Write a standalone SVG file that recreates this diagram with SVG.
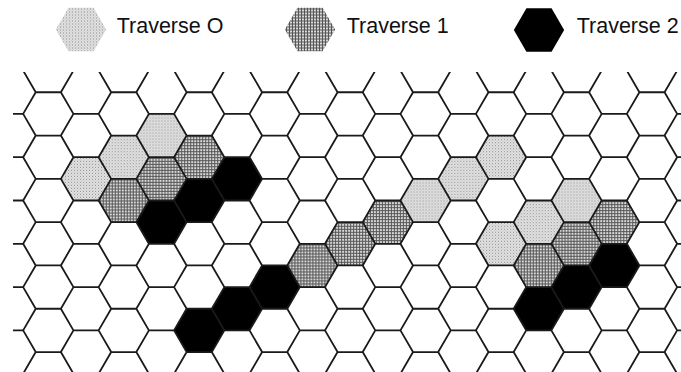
<svg xmlns="http://www.w3.org/2000/svg" width="681" height="372" viewBox="0 0 681 372">
  <defs>
    <pattern id="p0" width="3" height="3" patternUnits="userSpaceOnUse">
      <rect width="3" height="3" fill="#e4e4e4"/>
      <rect width="1" height="1" fill="#888"/>
      <rect x="1.5" y="1.5" width="1" height="1" fill="#aaa"/>
    </pattern>
    <pattern id="p1" width="3" height="3" patternUnits="userSpaceOnUse">
      <rect width="3" height="3" fill="#d8d8d8"/>
      <rect width="3" height="1" fill="#555"/>
      <rect width="1" height="3" fill="#555"/>
    </pattern>
    <polygon id="hex" points="-25.15,0 -12.575,-21.65 12.575,-21.65 25.15,0 12.575,21.65 -12.575,21.65"/>
    <path id="strip" d="M-12.575,-21.65 l-12.575,21.65 l12.575,21.65 l-12.575,21.65 l12.575,21.65 l-12.575,21.65 l12.575,21.65 l-12.575,21.65 l12.575,21.65 l-12.575,21.65 l12.575,21.65 l-12.575,21.65 l12.575,21.65 l-12.575,21.65 l12.575,21.65 l-12.575,21.65 l12.575,21.65
      M12.575,-21.65 l12.575,21.65 l-12.575,21.65 l12.575,21.65 l-12.575,21.65 l12.575,21.65 l-12.575,21.65 l12.575,21.65 l-12.575,21.65 l12.575,21.65 l-12.575,21.65 l12.575,21.65 l-12.575,21.65 l12.575,21.65 l-12.575,21.65 l12.575,21.65 l-12.575,21.65
      M-12.575,-21.65 h25.15 m-25.15,43.3 h25.15 m-25.15,43.3 h25.15 m-25.15,43.3 h25.15 m-25.15,43.3 h25.15 m-25.15,43.3 h25.15 m-25.15,43.3 h25.15 m-25.15,43.3 h25.15 m-25.15,43.3 h25.15
      M25.15,0 h25.16 m-25.16,43.3 h25.16 m-25.16,43.3 h25.16 m-25.16,43.3 h25.16 m-25.16,43.3 h25.16 m-25.16,43.3 h25.16 m-25.16,43.3 h25.16 m-25.16,43.3 h25.16"/>
    <clipPath id="gridclip">
      <rect x="13" y="72" width="668" height="300"/>
    </clipPath>
  </defs>
  <style>
    .t0 { fill: url(#p0); }
    .t1 { fill: url(#p1); }
    .t2 { fill: #000; }
    .grid { fill: none; stroke: #1a1a1a; stroke-width: 1.8; stroke-linejoin: round; }
    .lbl { font-family: "Liberation Sans", Arial, Helvetica, sans-serif; font-size: 21.5px; fill: #111; }
  </style>

  <g id="legend">
    <g id="legend-traverse0">
      <use href="#hex" class="t0" x="81" y="29.5"/>
      <text class="lbl" x="116.7" y="32.5">Traverse O</text>
    </g>
    <g id="legend-traverse1">
      <use href="#hex" class="t1" x="310" y="29.5"/>
      <text class="lbl" x="346.7" y="32.5">Traverse 1</text>
    </g>
    <g id="legend-traverse2">
      <use href="#hex" class="t2" x="539" y="30"/>
      <text class="lbl" x="576.7" y="32.5">Traverse 2</text>
    </g>
  </g>

  <g id="cells" clip-path="url(#gridclip)">
    <g id="traverse0">
      <g id="t0-a"><use href="#hex" class="t0" x="86.03" y="178.85"/></g>
      <g id="t0-b"><use href="#hex" class="t0" x="123.76" y="157.2"/></g>
      <g id="t0-c"><use href="#hex" class="t0" x="161.49" y="135.55"/></g>
      <g id="t0-d"><use href="#hex" class="t0" x="425.6" y="200.5"/></g>
      <g id="t0-e"><use href="#hex" class="t0" x="463.33" y="178.85"/></g>
      <g id="t0-f"><use href="#hex" class="t0" x="501.06" y="157.2"/></g>
      <g id="t0-g"><use href="#hex" class="t0" x="501.06" y="243.8"/></g>
      <g id="t0-h"><use href="#hex" class="t0" x="538.79" y="222.15"/></g>
      <g id="t0-i"><use href="#hex" class="t0" x="576.52" y="200.5"/></g>
    </g>
    <g id="traverse1">
      <g id="t1-a"><use href="#hex" class="t1" x="123.76" y="200.5"/></g>
      <g id="t1-b"><use href="#hex" class="t1" x="161.49" y="178.85"/></g>
      <g id="t1-c"><use href="#hex" class="t1" x="199.22" y="157.2"/></g>
      <g id="t1-d"><use href="#hex" class="t1" x="312.41" y="265.45"/></g>
      <g id="t1-e"><use href="#hex" class="t1" x="350.14" y="243.8"/></g>
      <g id="t1-f"><use href="#hex" class="t1" x="387.87" y="222.15"/></g>
      <g id="t1-g"><use href="#hex" class="t1" x="538.79" y="265.45"/></g>
      <g id="t1-h"><use href="#hex" class="t1" x="576.52" y="243.8"/></g>
      <g id="t1-i"><use href="#hex" class="t1" x="614.25" y="222.15"/></g>
    </g>
    <g id="traverse2">
      <g id="t2-a"><use href="#hex" class="t2" x="161.49" y="222.15"/></g>
      <g id="t2-b"><use href="#hex" class="t2" x="199.22" y="200.5"/></g>
      <g id="t2-c"><use href="#hex" class="t2" x="236.95" y="178.85"/></g>
      <g id="t2-d"><use href="#hex" class="t2" x="199.22" y="330.4"/></g>
      <g id="t2-e"><use href="#hex" class="t2" x="236.95" y="308.75"/></g>
      <g id="t2-f"><use href="#hex" class="t2" x="274.68" y="287.1"/></g>
      <g id="t2-g"><use href="#hex" class="t2" x="538.79" y="308.75"/></g>
      <g id="t2-h"><use href="#hex" class="t2" x="576.52" y="287.1"/></g>
      <g id="t2-i"><use href="#hex" class="t2" x="614.25" y="265.45"/></g>
    </g>
  </g>

  <g id="grid" class="grid" clip-path="url(#gridclip)">
    <use href="#strip" x="-27.16" y="70.6"/>
    <use href="#strip" x="48.3" y="70.6"/>
    <use href="#strip" x="123.76" y="70.6"/>
    <use href="#strip" x="199.22" y="70.6"/>
    <use href="#strip" x="274.68" y="70.6"/>
    <use href="#strip" x="350.14" y="70.6"/>
    <use href="#strip" x="425.6" y="70.6"/>
    <use href="#strip" x="501.06" y="70.6"/>
    <use href="#strip" x="576.52" y="70.6"/>
    <use href="#strip" x="651.98" y="70.6"/>
  </g>
</svg>
